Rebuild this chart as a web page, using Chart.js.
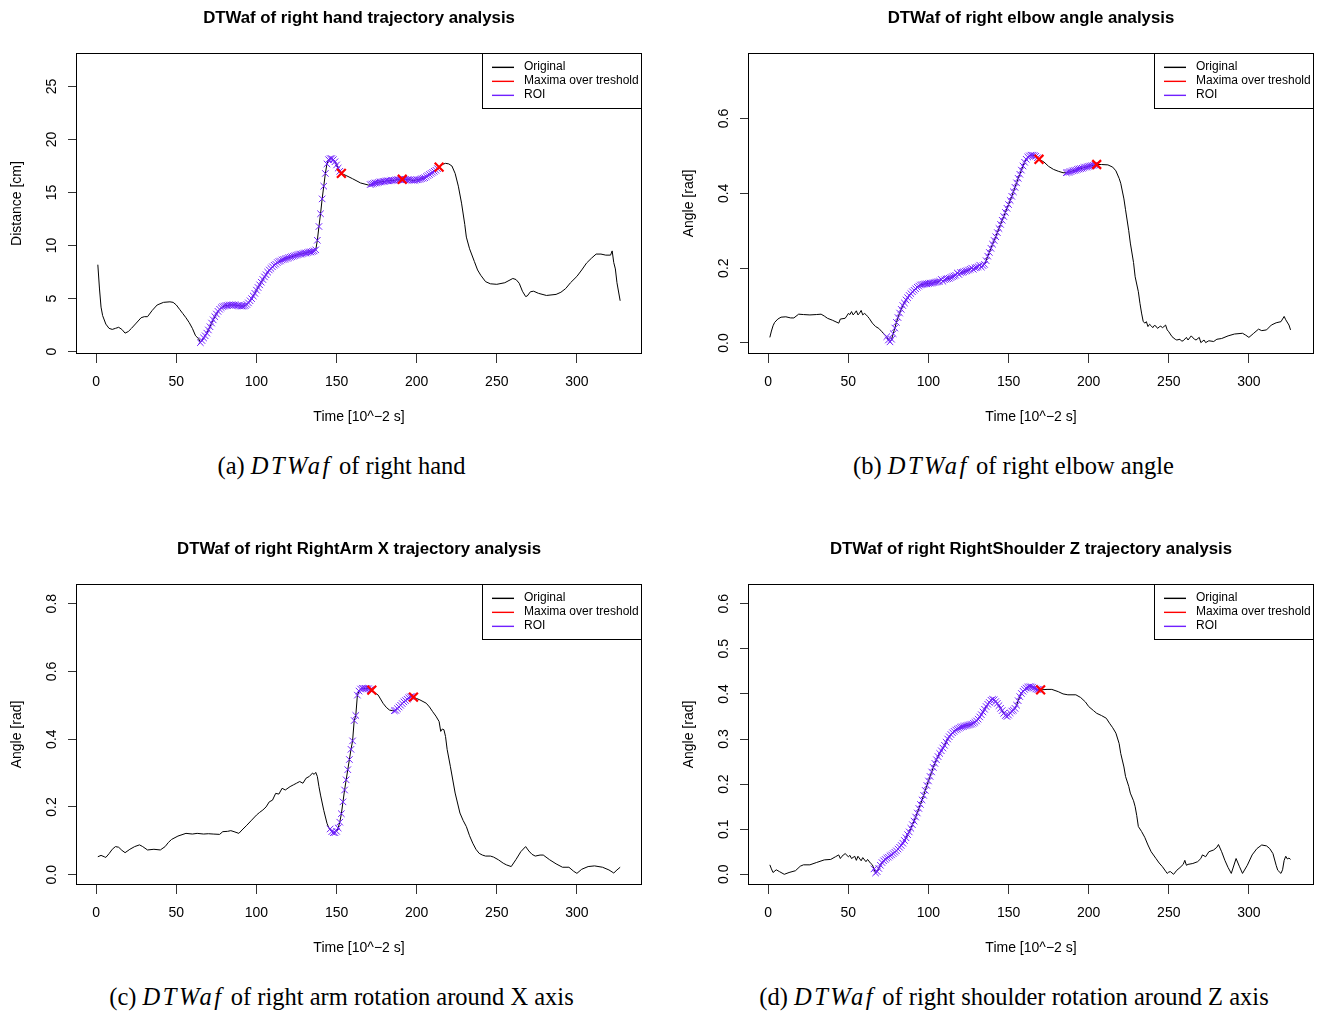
<!DOCTYPE html>
<html>
<head>
<meta charset="utf-8">
<script src="https://cdn.jsdelivr.net/npm/chart.js@4.4.1/dist/chart.umd.min.js"></script>
<style>
html,body{margin:0;padding:0;background:#fff;width:1323px;height:1013px;overflow:hidden;}
canvas{position:absolute;}
.cap{position:absolute;font-family:"Liberation Serif","Times New Roman",serif;font-size:24.5px;color:#000;white-space:nowrap;transform:translate(-50%,-50%);line-height:1;}
.cap i{letter-spacing:2.5px;padding-right:1px;}
</style>
</head>
<body>
<canvas id="cA" width="650" height="435" style="left:0px;top:0px;width:650px;height:435px"></canvas>
<canvas id="cB" width="650" height="435" style="left:672px;top:0px;width:650px;height:435px"></canvas>
<canvas id="cC" width="650" height="435" style="left:0px;top:531px;width:650px;height:435px"></canvas>
<canvas id="cD" width="650" height="435" style="left:672px;top:531px;width:650px;height:435px"></canvas>
<div class="cap" style="left:341.5px;top:466px">(a) <i>DTWaf</i> of right hand</div>
<div class="cap" style="left:1013.5px;top:466px">(b) <i>DTWaf</i> of right elbow angle</div>
<div class="cap" style="left:341.5px;top:997px">(c) <i>DTWaf</i> of right arm rotation around X axis</div>
<div class="cap" style="left:1014px;top:997px">(d) <i>DTWaf</i> of right shoulder rotation around Z axis</div>
<script>
// ---------- shared labels ----------
const xTickLabels = ['0','50','100','150','200','250','300'];
const xAxisLabel = 'Time [10^\u22122 s]';
const legendLabels = ['Original', 'Maxima over treshold', 'ROI'];

// ---------- (a) right hand trajectory ----------
const handTitle = 'DTWaf of right hand trajectory analysis';
const handYLabel = 'Distance [cm]';
const handYTicks = ['0','5','10','15','20','25'];
const handOrig = [[1,8.2],[2,6.0],[3,4.2],[4,3.4],[6,2.6],[8,2.2],[10,2.1],[12,2.2],[14,2.3],[16,2.1],[18,1.75],[20,1.9],[22,2.2],[25,2.7],[28,3.2],[30,3.3],[32,3.3],[35,3.9],[38,4.4],[42,4.65],[46,4.7],[48,4.65],[50,4.4],[52,4.0],[54,3.6],[56,3.2],[58,2.75],[60,2.2],[62,1.5],[64,1.2],
  [156,16.6],[160,16.3],[165,15.9],[170,15.7],
  [216,17.65],[218,17.75],[220,17.7],[222,17.5],[224,16.8],[226,15.6],[228,14.0],[230,12.0],[231,10.8],[233,9.7],[234,9.3],[236,8.5],[238,7.7],[240,7.2],[243,6.6],[246,6.4],[250,6.35],[255,6.5],[260,6.9],[262,6.8],[264,6.45],[266,5.7],[268,5.2],[269,5.25],[271,5.65],[273,5.7],[276,5.5],[281,5.3],[287,5.4],[290,5.6],[293,5.95],[296,6.5],[300,7.1],[303,7.7],[306,8.35],[309,8.8],[312,9.2],[315,9.2],[318,9.1],[321,9.1],[322,9.5],[323,8.4],[324,7.8],[325,6.5],[327,4.8]];
const handRoi1Start = 65;
const handRoi1 = [0.85,1.05,1.3,1.5,1.75,2.05,2.35,2.7,3.0,3.3,3.55,3.8,4.0,4.15,4.25,4.3,4.35,4.35,4.4,4.4,4.4,4.4,4.4,4.35,4.35,4.3,4.3,4.3,4.35,4.45,4.6,4.8,5.0,5.25,5.5,5.8,6.05,6.3,6.55,6.8,7.05,7.25,7.5,7.7,7.85,8.0,8.15,8.25,8.4,8.5,8.55,8.65,8.7,8.75,8.8,8.85,8.9,8.95,9.0,9.05,9.1,9.15,9.2,9.2,9.25,9.3,9.3,9.35,9.4,9.4,9.45,9.5,
  9.6,10.5,11.8,13.0,14.4,15.6,16.8,17.7,18.1,18.2,18.2,18.1,17.9,17.6,17.3,17.0];
const handRoi2Start = 171;
const handRoi2 = [15.75,15.8,15.85,15.9,15.9,15.95,16.0,16.0,16.05,16.05,16.1,16.1,16.1,16.15,16.15,16.15,16.2,16.2,16.2,16.2,16.25,16.25,16.25,16.2,16.2,16.2,16.15,16.15,16.15,16.2,16.2,16.25,16.3,16.35,16.4,16.5,16.6,16.7,16.8,16.9,17.0,17.1,17.25];
const handMax = [[153,16.8],[191,16.25],[214,17.4]];

// ---------- (b) right elbow angle ----------
const elbowTitle = 'DTWaf of right elbow angle analysis';
const elbowYLabel = 'Angle [rad]';
const elbowYTicks = ['0.0','0.2','0.4','0.6'];
const elbowOrig = [[1,0.015],[2,0.032],[3,0.046],[4,0.055],[6,0.064],[8,0.069],[11,0.07],[14,0.067],[16,0.067],[19,0.077],[22,0.076],[26,0.075],[30,0.076],[33,0.077],[35,0.072],[37,0.066],[40,0.061],[44,0.053],[45,0.064],[48,0.066],[49,0.072],[50,0.079],[51,0.076],[52,0.084],[53,0.075],[54,0.08],[55,0.086],[56,0.075],[57,0.08],[58,0.087],[59,0.075],[60,0.079],[61,0.076],[62,0.071],[63,0.066],[65,0.053],[67,0.044],[69,0.039],[71,0.03],[72,0.025],[73,0.02],
  [172,0.484],[175,0.472],[178,0.464],[181,0.459],[184,0.455],
  [208,0.477],[212,0.476],[215,0.47],[217,0.46],[219,0.44],[220,0.427],[222,0.385],[223,0.356],[225,0.3],[226,0.267],[228,0.215],[229,0.177],[231,0.137],[232,0.106],[233,0.08],[234,0.058],[235,0.053],[236,0.057],[237,0.044],[238,0.05],[239,0.046],[240,0.041],[241,0.047],[242,0.045],[243,0.039],[244,0.043],[245,0.045],[246,0.041],[247,0.044],[248,0.048],[249,0.035],[250,0.03],[252,0.017],[254,0.01],[255,0.008],[257,0.01],[258,0.005],[259,0.006],[261,0.015],[262,0.008],[264,0.019],[266,0.01],[267,0.008],[269,0.015],[270,0.001],[272,0.008],[273,0.001],[275,0.006],[278,0.004],[280,0.01],[283,0.012],[287,0.019],[291,0.024],[296,0.026],[298,0.021],[300,0.015],[303,0.026],[306,0.037],[308,0.033],[311,0.035],[314,0.048],[317,0.054],[320,0.057],[322,0.071],[323,0.062],[325,0.048],[326,0.035]];
const elbowRoi1Start = 74;
const elbowRoi1 = [0.017,0.008,0.003,0.01,0.025,0.04,0.055,0.068,0.08,0.09,
  0.1,0.107,0.115,0.121,0.127,0.132,0.137,0.141,0.145,0.149,
  0.152,0.155,0.156,0.157,0.158,0.158,0.159,0.16,0.16,0.161,
  0.162,0.163,0.164,0.165,0.17,0.165,0.169,0.171,0.172,0.173,
  0.175,0.177,0.179,0.181,0.187,0.183,0.188,0.189,0.19,0.192,
  0.193,0.195,0.197,0.2,0.197,0.201,0.202,0.204,0.208,0.203,
  0.207,0.21,0.22,0.232,0.242,0.253,0.264,0.274,0.284,0.295,
  0.306,0.317,0.328,0.338,0.349,0.36,0.37,0.381,0.392,0.404,
  0.416,0.428,0.44,0.451,0.462,0.473,0.483,0.491,0.497,0.5,
  0.502,0.502,0.501,0.499,0.495];
const elbowRoi2Start = 186;
const elbowRoi2 = [0.455,0.456,0.457,0.458,0.46,0.461,0.462,0.464,0.465,0.466,0.467,0.469,0.47,0.471,0.472,0.473,0.474,0.475,0.476];
const elbowMax = [[169,0.491],[205,0.477]];

// ---------- (c) right arm rotation X ----------
const armTitle = 'DTWaf of right RightArm X trajectory analysis';
const armYLabel = 'Angle [rad]';
const armYTicks = ['0.0','0.2','0.4','0.6','0.8'];
const armOrig = [[1,0.053],[3,0.057],[5,0.053],[6,0.051],[8,0.062],[10,0.075],[12,0.083],[14,0.081],[16,0.072],[18,0.065],[21,0.075],[24,0.083],[27,0.088],[29,0.083],[32,0.073],[36,0.075],[40,0.073],[43,0.083],[45,0.095],[47,0.104],[51,0.114],[56,0.122],[60,0.12],[63,0.122],[67,0.12],[70,0.121],[73,0.12],[77,0.119],[79,0.127],[82,0.128],[84,0.13],[86,0.127],[89,0.122],[91,0.132],[94,0.146],[97,0.161],[100,0.176],[102,0.184],[104,0.191],[106,0.2],[108,0.215],[110,0.22],[112,0.24],[114,0.238],[116,0.255],[118,0.25],[121,0.26],[123,0.265],[125,0.27],[127,0.275],[129,0.27],[131,0.285],[133,0.29],[135,0.3],[136,0.296],[137,0.302],[138,0.29],[139,0.26],[140,0.235],[142,0.19],[144,0.152],[145,0.14],
  [173,0.54],[176,0.53],[179,0.506],[181,0.494],[183,0.486],[185,0.484],
  [200,0.52],[202,0.516],[206,0.506],[208,0.495],[210,0.481],[212,0.468],[214,0.452],[215,0.423],[216,0.43],[217,0.428],[218,0.408],[219,0.37],[221,0.32],[224,0.241],[227,0.182],[229,0.16],[231,0.142],[233,0.115],[235,0.093],[237,0.075],[239,0.063],[241,0.058],[243,0.055],[246,0.055],[248,0.052],[251,0.044],[254,0.034],[256,0.029],[259,0.024],[262,0.045],[265,0.068],[268,0.083],[270,0.07],[272,0.06],[274,0.055],[277,0.058],[279,0.058],[283,0.044],[287,0.032],[291,0.022],[295,0.022],[298,0.01],[300,0.004],[303,0.016],[307,0.024],[311,0.026],[316,0.022],[320,0.014],[323,0.005],[325,0.014],[327,0.022]];
const armRoi1Start = 146;
const armRoi1 = [0.135,0.127,0.124,0.124,0.128,0.138,0.155,0.18,0.215,0.25,0.28,0.31,0.34,0.37,0.395,0.455,0.47,0.53,0.542,0.548,0.55,0.55,0.55,0.55,0.549,0.546];
const armRoi2Start = 186;
const armRoi2 = [0.484,0.485,0.49,0.495,0.5,0.505,0.51,0.514,0.518,0.522,0.525,0.526];
const armMax = [[172,0.545],[198,0.524]];

// ---------- (d) right shoulder rotation Z ----------
const shoulderTitle = 'DTWaf of right RightShoulder Z trajectory analysis';
const shoulderYLabel = 'Angle [rad]';
const shoulderYTicks = ['0.0','0.1','0.2','0.3','0.4','0.5','0.6'];
const shoulderOrig = [[1,0.021],[2,0.012],[3,0.004],[5,0.01],[7,0.006],[10,0.0],[13,0.004],[17,0.008],[20,0.018],[22,0.021],[26,0.021],[30,0.026],[35,0.032],[39,0.033],[42,0.039],[44,0.043],[45,0.035],[46,0.04],[48,0.046],[50,0.039],[51,0.042],[52,0.035],[54,0.04],[55,0.031],[56,0.04],[58,0.03],[59,0.037],[61,0.028],[62,0.033],[64,0.024],[65,0.021],
  [174,0.41],[177,0.41],[181,0.405],[184,0.4],[187,0.398],[192,0.398],[195,0.392],[198,0.382],[200,0.372],[203,0.363],[205,0.357],[208,0.352],[211,0.346],[213,0.335],[215,0.325],[217,0.313],[219,0.29],[220,0.268],[222,0.238],[223,0.217],[225,0.195],[226,0.18],[228,0.163],[229,0.15],[230,0.13],[231,0.106],[233,0.095],[235,0.082],[237,0.065],[239,0.05],[242,0.035],[244,0.025],[246,0.017],[248,0.007],[249,0.002],[250,0.005],[251,0.006],[252,0.003],[253,0.0],[255,0.009],[257,0.015],[259,0.022],[260,0.031],[261,0.02],[262,0.022],[265,0.024],[268,0.028],[270,0.035],[271,0.043],[273,0.039],[275,0.05],[278,0.054],[280,0.06],[281,0.066],[283,0.05],[285,0.031],[287,0.015],[289,0.002],[292,0.035],[294,0.018],[296,0.002],[299,0.02],[302,0.043],[305,0.057],[308,0.065],[311,0.063],[313,0.057],[315,0.046],[317,0.02],[318,0.009],[320,0.002],[321,0.01],[322,0.031],[323,0.04],[324,0.034],[325,0.036],[326,0.033]];
const shoulderRoiStart = 66;
const shoulderRoi = [0.012,0.003,0.006,0.013,0.02,0.026,0.03,0.033,0.036,0.038,
  0.041,0.043,0.046,0.049,0.052,0.056,0.06,0.064,0.069,0.075,
  0.081,0.088,0.094,0.102,0.11,0.118,0.127,0.136,0.146,0.155,
  0.165,0.175,0.186,0.197,0.207,0.217,0.227,0.237,0.246,0.254,
  0.261,0.268,0.274,0.28,0.286,0.293,0.3,0.305,0.31,0.314,
  0.317,0.32,0.322,0.324,0.326,0.327,0.328,0.329,0.33,0.331,
  0.332,0.333,0.335,0.337,0.34,0.344,0.349,0.354,0.36,0.366,
  0.372,0.377,0.381,0.386,0.388,0.387,0.383,0.379,0.374,0.368,
  0.363,0.357,0.352,0.35,0.353,0.358,0.362,0.364,0.368,0.375,
  0.385,0.394,0.401,0.406,0.41,0.413,0.415,0.416,0.416,0.415,
  0.413,0.411,0.41,0.41];
const shoulderMax = [[170,0.409]];

// ---------- styling ----------
const FONT = '"Liberation Sans", Arial, Helvetica, sans-serif';
const COL_ORIG = '#000000';
const COL_MAX = '#ff0000';
const COL_ROI = '#7020ff';

Chart.defaults.font.family = FONT;
Chart.defaults.color = '#000';

function roiPoints(rois) {
  const pts = [];
  rois.forEach(([start, vals]) => vals.forEach((v, i) => pts.push({x: start + i, y: v})));
  return pts;
}
function pairPoints(pairs) { return pairs.map(([x, y]) => ({x, y})); }

const frameLegend = {
  id: 'frameLegend',
  afterDraw(chart) {
    const {ctx, chartArea: ca} = chart;
    ctx.save();
    ctx.globalAlpha = 1;
    ctx.setLineDash([]);
    ctx.strokeStyle = '#000';
    ctx.lineWidth = 1;
    ctx.strokeRect(Math.round(ca.left) - 0.5, Math.round(ca.top) + 0.5, Math.round(ca.right - ca.left) + 1, Math.round(ca.bottom - ca.top) - 1);
    // legend box
    const w = 159, h = 55;
    const x0 = Math.round(ca.right) - w, y0 = Math.round(ca.top);
    ctx.fillStyle = '#ffffff';
    ctx.fillRect(x0, y0, w, h);
    ctx.strokeStyle = '#000';
    ctx.strokeRect(x0 + 0.5, y0 + 0.5, w, h);
    const cols = [COL_ORIG, COL_MAX, COL_ROI];
    ctx.font = '12px ' + FONT;
    ctx.textBaseline = 'middle';
    ctx.textAlign = 'left';
    legendLabels.forEach((lab, i) => {
      const y = y0 + 14 + i * 14;
      ctx.fillStyle = cols[i];
      ctx.fillRect(x0 + 10, y - 0.35, 22, 1.4);
      ctx.fillStyle = '#000';
      ctx.fillText(lab, x0 + 42, y);
    });
    ctx.restore();
  }
};

function makePanel(canvasId, title, yLabel, yTicks, yMin, yMax, yPad, orig, rois, maxima) {
  const roiPts = roiPoints(rois);
  const maxPts = pairPoints(maxima);
  const map = new Map();
  pairPoints(orig).concat(roiPts, maxPts).forEach(p => map.set(p.x, p.y));
  const linePts = Array.from(map.entries()).map(([x, y]) => ({x, y})).sort((a, b) => a.x - b.x);

  const gridOpts = {display: true, drawOnChartArea: false, drawTicks: true, tickLength: 9, color: '#333', tickColor: '#333', lineWidth: 1, tickWidth: 1};

  return new Chart(document.getElementById(canvasId), {
    type: 'line',
    data: {
      datasets: [
        {label: legendLabels[1], data: maxPts, showLine: false, pointStyle: 'crossRot', pointRadius: 6.2, pointBorderWidth: 2.2, borderColor: COL_MAX, backgroundColor: COL_MAX, pointBorderColor: COL_MAX, order: 0},
        {label: legendLabels[2], data: roiPts, showLine: false, pointStyle: 'crossRot', pointRadius: 4.6, pointBorderWidth: 1, borderColor: COL_ROI, backgroundColor: COL_ROI, pointBorderColor: COL_ROI, order: 1},
        {label: legendLabels[0], data: linePts, showLine: true, borderColor: COL_ORIG, borderWidth: 1, pointRadius: 0, tension: 0, fill: false, order: 2}
      ]
    },
    options: {
      responsive: false,
      animation: false,
      devicePixelRatio: 1,
      events: [],
      layout: {padding: {left: 0, right: 9, top: 0, bottom: 0}},
      plugins: {
        legend: {display: false},
        tooltip: {enabled: false},
        title: {display: true, text: title, fullSize: false, color: '#000', font: {size: 16.8, weight: 'bold', family: FONT}, padding: {top: 7.9, bottom: 24.94}}
      },
      scales: {
        x: {
          type: 'linear', min: -12, max: 340,
          afterBuildTicks: s => { s.ticks = xTickLabels.map(t => ({value: parseFloat(t)})); },
          afterFit: s => { s.height = 81; },
          ticks: {autoSkip: false, maxRotation: 0, minRotation: 0, padding: 10.3, color: '#000', font: {size: 14}, callback: (v, i) => xTickLabels[i]},
          grid: gridOpts,
          border: {display: false},
          title: {display: true, text: xAxisLabel, color: '#000', font: {size: 14}, padding: {top: 9.6, bottom: 9.6}}
        },
        y: {
          type: 'linear', min: yMin, max: yMax,
          afterBuildTicks: s => { s.ticks = yTicks.map(t => ({value: parseFloat(t)})); },
          afterFit: s => { s.width = 77; },
          ticks: {autoSkip: false, minRotation: 90, maxRotation: 90, crossAlign: 'center', padding: yPad, color: '#000', font: {size: 14}, callback: (v, i) => yTicks[i]},
          grid: gridOpts,
          border: {display: false},
          title: {display: true, text: yLabel, color: '#000', font: {size: 14}, padding: {top: 8.6, bottom: 8.6}}
        }
      }
    },
    plugins: [frameLegend]
  });
}

makePanel('cA', handTitle, handYLabel, handYTicks, -0.217, 28.15, 8.4, handOrig, [[handRoi1Start, handRoi1], [handRoi2Start, handRoi2]], handMax);
makePanel('cB', elbowTitle, elbowYLabel, elbowYTicks, -0.0294, 0.775, 6.5, elbowOrig, [[elbowRoi1Start, elbowRoi1], [elbowRoi2Start, elbowRoi2]], elbowMax);
makePanel('cC', armTitle, armYLabel, armYTicks, -0.0304, 0.858, 6.5, armOrig, [[armRoi1Start, armRoi1], [armRoi2Start, armRoi2]], armMax);
makePanel('cD', shoulderTitle, shoulderYLabel, shoulderYTicks, -0.0237, 0.6437, 6.5, shoulderOrig, [[shoulderRoiStart, shoulderRoi]], shoulderMax);
</script>
</body>
</html>
